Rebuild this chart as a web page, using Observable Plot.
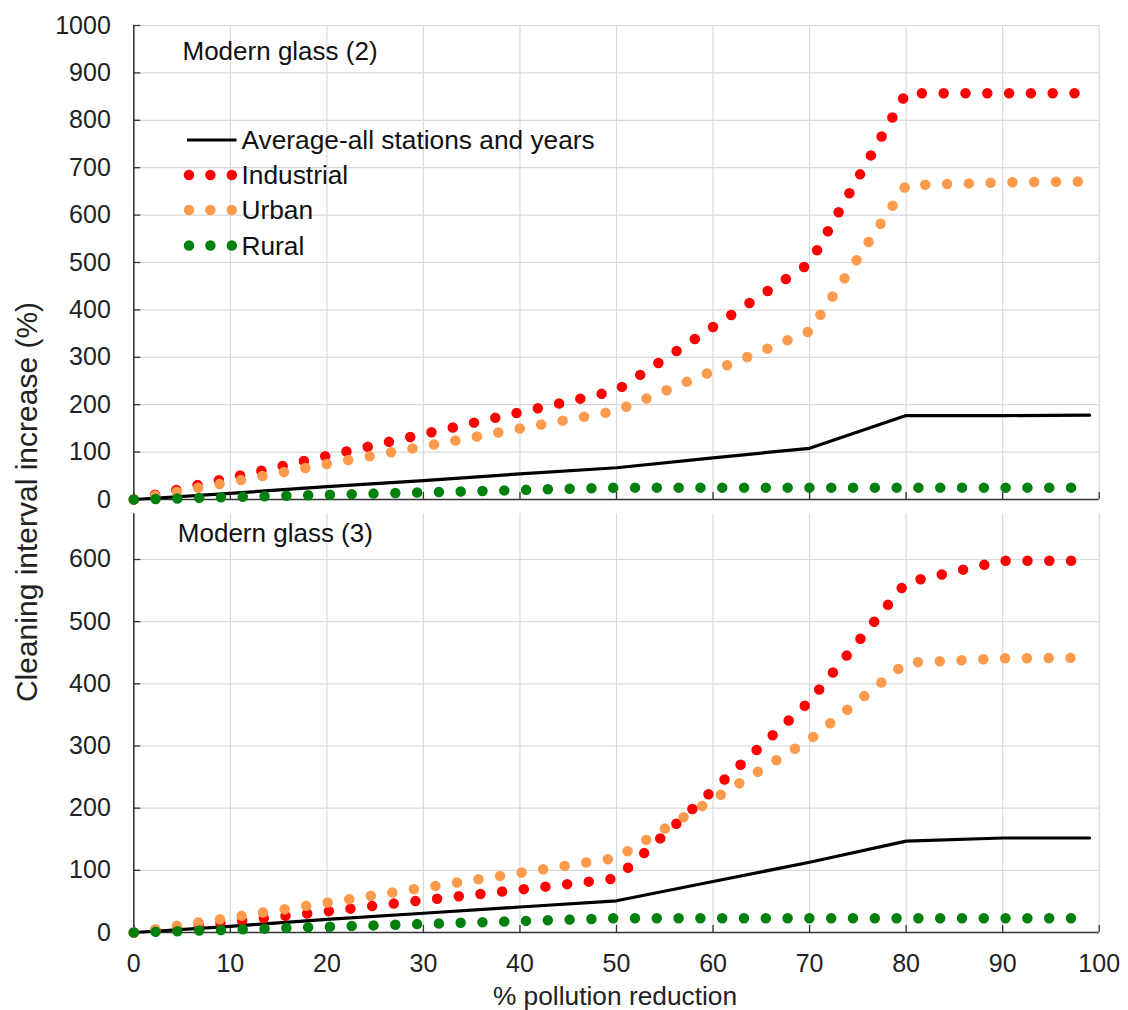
<!DOCTYPE html>
<html>
<head>
<meta charset="utf-8">
<script src="https://cdn.jsdelivr.net/npm/d3@7"></script>
<script src="https://cdn.jsdelivr.net/npm/@observablehq/plot@0.6"></script>
<style>
  html, body { margin: 0; padding: 0; background: #fff; }
  body { font-family: "Liberation Sans", Arial, sans-serif; color: #222; }
  #wrap { position: relative; width: 1128px; height: 1010px; overflow: hidden; }
  .panel { position: absolute; left: 0; }
  #ylabel { position: absolute; left: 27px; top: 502px; transform: translate(-50%, -50%) rotate(-90deg);
            white-space: nowrap; font-size: 30px; color: #222; }
  #xlabel { position: absolute; left: 615px; top: 1006px; transform: translate(-50%, -80%);
            white-space: nowrap; font-size: 26.3px; color: #222; }
  #legend { position: absolute; left: 0; top: 0; pointer-events: none; }
</style>
</head>
<body>
<div id="wrap">
  <div id="top" class="panel" style="top:0"></div>
  <div id="bottom" class="panel" style="top:505px"></div>
  <svg id="legend" width="1128" height="505"></svg>
  <div id="ylabel">Cleaning interval increase (%)</div>
  <div id="xlabel">% pollution reduction</div>
</div>
<script>
// ---- data ----
const reduction = [0, 10, 20, 30, 40, 50, 60, 70, 80, 90, 99];

// Modern glass (2)
const average2    = [0, 13, 27, 40, 54, 67, 88, 108, 177, 177, 178];
const industrial2 = [0, 46, 92, 138, 184, 230, 364, 498, 857, 857, 857];
const urban2      = [0, 37, 75, 112, 150, 187, 271, 355, 663, 669, 671];
const rural2      = [0, 5, 10, 15, 20, 25, 25, 25, 25, 25, 25];

// Modern glass (3)
const average3    = [0, 10, 21, 31, 41, 51, 82, 113, 147, 152, 152];
const industrial3 = [0, 17, 34, 52, 69, 87, 229, 372, 563, 598, 598];
const urban3      = [0, 24, 48, 72, 96, 120, 214, 310, 434, 441, 442];
const rural3      = [0, 4.6, 9.2, 13.8, 18.4, 23, 23, 23, 23, 23, 23];

const xTicks = [0, 10, 20, 30, 40, 50, 60, 70, 80, 90, 100];
const yTicksTop = [0, 100, 200, 300, 400, 500, 600, 700, 800, 900, 1000];
const yTicksBottom = [0, 100, 200, 300, 400, 500, 600];

const seriesNames = ["Average-all stations and years", "Industrial", "Urban", "Rural"];
const seriesColors = ["#000000", "#ff0000", "#fd9a4c", "#00800f"];

// ---- helpers ----
const FONT = "'Liberation Sans', Arial, sans-serif";
const W = 1128, ML = 133.3, MR = 29.3;
const innerW = W - ML - MR;
const DOT = {strokeWidth: 10.5, strokeDasharray: "0 21.8", strokeLinecap: "round", strokeLinejoin: "round"};

function rows(ys) { return reduction.map((x, i) => ({x, y: ys[i]})); }

function panel({title, series, yDomain, yTicks, height, marginTop, marginBottom, showX, titleDx, titleDy}) {
  const innerH = height - marginTop - marginBottom;
  const marks = [
    Plot.gridX(xTicks, {stroke: "#d9d9d9", strokeOpacity: 1, strokeWidth: 1.2}),
    Plot.gridY(yTicks, {stroke: "#d9d9d9", strokeOpacity: 1, strokeWidth: 1.2}),
    Plot.ruleX([0], {stroke: "#333", strokeWidth: 1.5}),
    Plot.ruleY([0], {stroke: "#333", strokeWidth: 1.5}),
    Plot.tickY(yTicks, {y: d => d, stroke: "#333", strokeWidth: 1.3, insetRight: innerW - 7}),
    Plot.tickX(xTicks, {x: d => d, stroke: "#333", strokeWidth: 1.3, insetTop: innerH - 7}),
    Plot.axisY(yTicks, {anchor: "left", tickSize: 0, tickPadding: 23, fontSize: 25, label: null, color: "#222", tickFormat: d => String(d)}),
    Plot.line(rows(series[0]), {x: "x", y: "y", stroke: seriesColors[0], strokeWidth: 3.2, strokeLinejoin: "round"}),
    Plot.line(rows(series[1]), {x: "x", y: "y", stroke: seriesColors[1], ...DOT}),
    Plot.line(rows(series[2]), {x: "x", y: "y", stroke: seriesColors[2], ...DOT}),
    Plot.line(rows(series[3]), {x: "x", y: "y", stroke: seriesColors[3], ...DOT}),
    Plot.text([title], {frameAnchor: "top-left", textAnchor: "start", lineAnchor: "top", dx: titleDx, dy: titleDy, fontSize: 26, fill: "#111"})
  ];
  if (showX) {
    marks.push(Plot.axisX(xTicks, {anchor: "bottom", tickSize: 0, tickPadding: 22, fontSize: 25, label: null, color: "#222", tickFormat: d => String(d)}));
  }
  return Plot.plot({
    width: W, height, marginLeft: ML, marginRight: MR, marginTop, marginBottom,
    style: {fontFamily: FONT, background: "transparent", overflow: "visible"},
    x: {domain: [0, 100], axis: null},
    y: {domain: yDomain, axis: null},
    marks
  });
}

document.getElementById("top").append(panel({
  title: "Modern glass (2)",
  series: [average2, industrial2, urban2, rural2],
  yDomain: [0, 1000], yTicks: yTicksTop,
  height: 505, marginTop: 25, marginBottom: 6, showX: false,
  titleDx: 48.7, titleDy: 16.5
}));

document.getElementById("bottom").append(panel({
  title: "Modern glass (3)",
  series: [average3, industrial3, urban3, rural3],
  yDomain: [0, 673.5], yTicks: yTicksBottom,
  height: 505, marginTop: 8.3, marginBottom: 78, showX: true,
  titleDx: 44, titleDy: 9.5
}));

// ---- legend (inside top panel) ----
const lg = d3.select("#legend").style("font-family", FONT);
const rowY = [140, 175, 210, 245.5];
seriesNames.forEach((name, i) => {
  const g = lg.append("g").attr("transform", `translate(0,${rowY[i]})`);
  if (i === 0) {
    g.append("line").attr("x1", 187).attr("x2", 236.5).attr("y1", 0).attr("y2", 0)
      .attr("stroke", seriesColors[0]).attr("stroke-width", 3.2);
  } else {
    g.append("line").attr("x1", 189).attr("x2", 232).attr("y1", 0).attr("y2", 0)
      .attr("stroke", seriesColors[i]).attr("stroke-width", 10.5)
      .attr("stroke-dasharray", "0 21.4").attr("stroke-linecap", "round");
  }
  g.append("text").attr("x", 241.5).attr("y", 0).attr("dy", "0.36em")
    .attr("font-size", 26.3).attr("fill", "#111").text(name);
});
</script>
</body>
</html>
